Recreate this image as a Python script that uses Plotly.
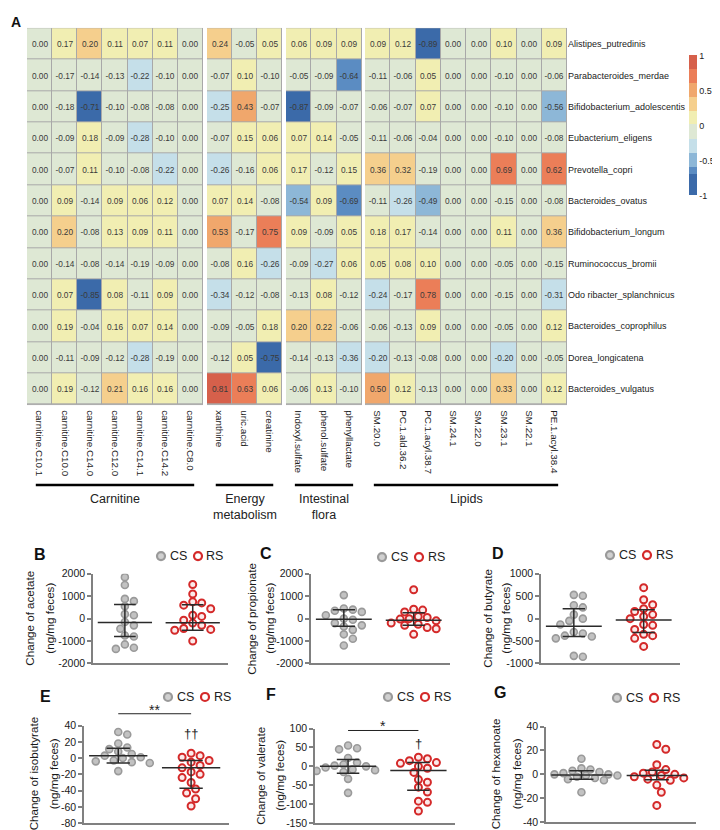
import plotly.graph_objects as go

W, H = 720, 830

# ---------------- Heatmap data ----------------
bacteria = ["Alistipes_putredinis", "Parabacteroides_merdae", "Bifidobacterium_adolescentis",
            "Eubacterium_eligens", "Prevotella_copri", "Bacteroides_ovatus", "Bifidobacterium_longum",
            "Ruminococcus_bromii", "Odo ribacter_splanchnicus", "Bacteroides_coprophilus",
            "Dorea_longicatena", "Bacteroides_vulgatus"]

carnitine_cols = ["carnitine.C10.1", "carnitine.C10.0", "carnitine.C14.0", "carnitine.C12.0",
                  "carnitine.C14.1", "carnitine.C14.2", "carnitine.C8.0"]
energy_cols = ["xanthine", "uric.acid", "creatinine"]
flora_cols = ["Indoxyl.sulfate", "phenol.sulfate", "phenyllactate"]
lipid_cols = ["SM.20.0", "PC.1.ald.36.2", "PC.1.acyl.38.7", "SM.24.1", "SM.22.0", "SM.23.1",
              "SM.22.1", "PE.1.acyl.38.4"]

carnitine_r = [
    [0.00, 0.17, 0.20, 0.11, 0.07, 0.11, 0.00],
    [0.00, -0.17, -0.14, -0.13, -0.22, -0.10, 0.00],
    [0.00, -0.18, -0.71, -0.10, -0.08, -0.08, 0.00],
    [0.00, -0.09, 0.18, -0.09, -0.28, -0.10, 0.00],
    [0.00, -0.07, 0.11, -0.10, -0.08, -0.22, 0.00],
    [0.00, 0.09, -0.14, 0.09, 0.06, 0.12, 0.00],
    [0.00, 0.20, -0.08, 0.13, 0.09, 0.11, 0.00],
    [0.00, -0.14, -0.08, -0.14, -0.19, -0.09, 0.00],
    [0.00, 0.07, -0.85, 0.08, -0.11, 0.09, 0.00],
    [0.00, 0.19, -0.04, 0.16, 0.07, 0.14, 0.00],
    [0.00, -0.11, -0.09, -0.12, -0.28, -0.19, 0.00],
    [0.00, 0.19, -0.12, 0.21, 0.16, 0.16, 0.00],
]
energy_r = [
    [0.24, -0.05, 0.05],
    [-0.07, 0.10, -0.10],
    [-0.25, 0.43, -0.07],
    [-0.07, 0.15, 0.06],
    [-0.26, -0.16, 0.06],
    [0.07, 0.14, -0.08],
    [0.53, -0.17, 0.75],
    [-0.08, 0.16, -0.26],
    [-0.34, -0.12, -0.08],
    [-0.09, -0.05, 0.18],
    [-0.12, 0.05, -0.75],
    [0.81, 0.63, 0.06],
]
flora_r = [
    [0.06, 0.09, 0.09],
    [-0.05, -0.09, -0.64],
    [-0.87, -0.09, -0.07],
    [0.07, 0.14, -0.05],
    [0.17, -0.12, 0.15],
    [-0.54, 0.09, -0.69],
    [0.09, -0.09, 0.05],
    [-0.09, -0.27, 0.06],
    [-0.13, 0.08, -0.12],
    [0.20, 0.22, -0.06],
    [-0.14, -0.13, -0.36],
    [-0.06, 0.13, -0.10],
]
lipid_r = [
    [0.09, 0.12, -0.89, 0.00, 0.00, 0.10, 0.00, 0.09],
    [-0.11, -0.06, 0.05, 0.00, 0.00, -0.10, 0.00, -0.06],
    [-0.06, -0.07, 0.07, 0.00, 0.00, -0.10, 0.00, -0.56],
    [-0.11, -0.06, -0.04, 0.00, 0.00, -0.10, 0.00, -0.08],
    [0.36, 0.32, -0.19, 0.00, 0.00, 0.69, 0.00, 0.62],
    [-0.11, -0.26, -0.49, 0.00, 0.00, -0.15, 0.00, -0.08],
    [0.18, 0.17, -0.14, 0.00, 0.00, 0.11, 0.00, 0.36],
    [0.05, 0.08, 0.10, 0.00, 0.00, -0.05, 0.00, -0.15],
    [-0.24, -0.17, 0.78, 0.00, 0.00, -0.15, 0.00, -0.31],
    [-0.06, -0.13, 0.09, 0.00, 0.00, -0.05, 0.00, 0.12],
    [-0.20, -0.13, -0.08, 0.00, 0.00, -0.20, 0.00, -0.05],
    [0.50, 0.12, -0.13, 0.00, 0.00, 0.33, 0.00, 0.12],
]
group_names = ["Carnitine", "Energy<br>metabolism", "Intestinal<br>flora", "Lipids"]

colorbar_ticks = [-1, -0.5, 0, 0.5, 1]
colorbar_labels = ["-1", "-0.5", "0", "0.5", "1"]

# ---------------- SCFA data ----------------
acetate_cs = [1850, 1500, 880, 780, 550, 200, 150, -150, -300, -450, -800, -750, -1150, -1350, -1300]
acetate_rs = [1520, 1100, 750, 700, 600, 440, 150, 100, -70, -200, -300, -440, -480, -520, -1000]
propionate_cs = [1050, 450, 400, 350, 300, 150, 0, -50, -200, -300, -350, -500, -700, -900, -1200]
propionate_rs = [1290, 420, 380, 300, 100, 50, 0, -20, -100, -200, -250, -300, -400, -450, -700]
butyrate_cs = [530, 510, 300, 250, 90, 0, -50, -130, -300, -330, -380, -400, -440, -830, -850]
butyrate_rs = [690, 420, 310, 220, 160, 90, 50, 0, -130, -150, -240, -350, -380, -440, -620]
isobutyrate_cs = [32, 29, 18, 13, 11, 8, 5, 3, 1, 0, -3, -4, -5, -6, -16]
isobutyrate_rs = [6, 3, 1, -3, -5, -9, -12, -17, -20, -24, -30, -38, -43, -50, -59]
valerate_cs = [55, 48, 45, 22, 10, 5, 2, 0, -3, -8, -10, -12, -15, -33, -70]
valerate_rs = [24, 20, 15, 10, 8, 0, -5, -16, -35, -42, -55, -68, -92, -95, -118]
hexanoate_cs = [13, 5, 4, 3, 2, 1, 0, 0, -1, -1, -2, -3, -4, -5, -15]
hexanoate_rs = [25, 21, 8, 4, 2, 1, 0, -1, -2, -3, -4, -5, -9, -15, -26]

# summary lines: (centre, lower, upper)
acetate_stats = [(-170, -800, 630), (-180, -520, 620)]
propionate_stats = [(-30, -340, 400), (-75, -295, 265)]
butyrate_stats = [(-170, -400, 220), (-30, -310, 200)]
isobutyrate_stats = [(3, -6, 12), (-12, -37, -3)]
valerate_stats = [(0, -18, 18), (-11, -63, 10)]
hexanoate_stats = [(-0.5, -4, 3), (-1, -4.5, 3.5)]

groups = ["CS", "RS"]

# ---------------- figure ----------------
fig = go.Figure()

def px(x):
    return x / W

def py(y):
    return 1 - y / H

# discrete colour scale
edges = [-1, -0.7, -0.6, -0.4, -0.195, 0.01, 0.195, 0.4, 0.6, 0.8, 1]
bins = ["#3b6aa9", "#5b8cc2", "#8db7d7", "#c5dfe9", "#dee8d4", "#f1eeb2",
        "#f5cf8d", "#f0a76c", "#eb7e58", "#d6604b"]
cscale = []
for i, c in enumerate(bins):
    cscale.append([(edges[i] + 1) / 2, c])
    cscale.append([(edges[i + 1] + 1) / 2, c])

hm_groups = [(carnitine_cols, carnitine_r, 19, 195),
             (energy_cols, energy_r, 199, 274),
             (flora_cols, flora_r, 278, 354),
             (lipid_cols, lipid_r, 357, 559)]
hm_top, hm_bot = 14, 397

for gi, (cols, rows, x0, x1) in enumerate(hm_groups):
    ax = "" if gi == 0 else str(gi + 1)
    text = [[f"{v:.2f}" for v in r] for r in rows]
    fig.add_trace(go.Heatmap(
        z=rows, x=cols, y=bacteria, text=text, texttemplate="%{text}",
        textfont=dict(size=8.3, color="#3a3a3a", family="Liberation Sans, Arial"),
        colorscale=cscale, zmin=-1, zmax=1, xgap=1, ygap=1,
        showscale=(gi == 3),
        colorbar=dict(x=px(681), xanchor="left", y=py(113), yanchor="middle",
                      len=140, lenmode="pixels", thickness=8, ypad=0, xpad=0,
                      tickvals=colorbar_ticks, ticktext=colorbar_labels,
                      ticks="", outlinewidth=0, tickfont=dict(size=9, color="#222")),
        xaxis="x" + ax, yaxis="y", hoverinfo="skip"))
    fig.layout["xaxis" + ax] = dict(
        domain=[px(x0), px(x1)], anchor="y", type="category",
        range=[-0.5, len(cols) - 0.5], tickangle=90, showgrid=False, zeroline=False,
        ticks="outside", ticklen=2, tickcolor="rgba(0,0,0,0)",
        tickfont=dict(size=9.8, color="#222"))
    fig.add_shape(type="rect", xref="x" + ax, yref="y", x0=-0.5, x1=len(cols) - 0.5,
                  y0=-0.5, y1=len(bacteria) - 0.5, fillcolor="#a8a8a8",
                  line=dict(color="#a8a8a8", width=1), layer="below")
    # bracket & group label
    cw = (x1 - x0) / len(cols)
    fig.add_shape(type="line", xref="paper", yref="paper",
                  x0=px(x0 + 0.35 * cw), x1=px(x1 - 0.35 * cw), y0=py(478), y1=py(478),
                  line=dict(color="black", width=2.5))
    fig.add_annotation(x=px((x0 + x1) / 2), y=py(483), xref="paper", yref="paper",
                       text=group_names[gi], showarrow=False, xanchor="center", yanchor="top",
                       font=dict(size=12.5, color="#222"))

fig.layout["yaxis"] = dict(domain=[py(hm_bot), py(hm_top)], anchor="x4", side="right",
                           type="category", categoryorder="array", categoryarray=bacteria,
                           autorange="reversed", showgrid=False, zeroline=False,
                           ticks="", tickfont=dict(size=9, color="#222"))

# ---------------- scatter panels ----------------
panels = [
    dict(L="B", cs=acetate_cs, rs=acetate_rs, st=acetate_stats, yr=(-2000, 2000), dt=1000,
         xp=(85, 220), yp=(568, 659), title="Change of acetate", tx=(22, 42),
         lab=(32, 548), leg=(153, 550)),
    dict(L="C", cs=propionate_cs, rs=propionate_rs, st=propionate_stats, yr=(-2000, 2000), dt=1000,
         xp=(303, 442), yp=(568, 659), title="Change of propionate", tx=(244, 262),
         lab=(258, 547), leg=(374, 551)),
    dict(L="D", cs=butyrate_cs, rs=butyrate_rs, st=butyrate_stats, yr=(-1000, 1000), dt=500,
         xp=(533, 672), yp=(568, 659), title="Change of butyrate", tx=(480, 498),
         lab=(490, 547), leg=(602, 549)),
    dict(L="E", cs=isobutyrate_cs, rs=isobutyrate_rs, st=isobutyrate_stats, yr=(-80, 40), dt=20,
         xp=(76, 221), yp=(722, 821), title="Change of isobutyrate", tx=(25, 45),
         lab=(37, 693), leg=(160, 693)),
    dict(L="F", cs=valerate_cs, rs=valerate_rs, st=valerate_stats, yr=(-150, 100), dt=50,
         xp=(307, 447), yp=(725, 821), title="Change of valerate", tx=(253, 272),
         lab=(263, 690), leg=(380, 693)),
    dict(L="G", cs=hexanoate_cs, rs=hexanoate_rs, st=hexanoate_stats, yr=(-40, 40), dt=20,
         xp=(538, 688), yp=(723, 820), title="Change of hexanoate", tx=(487, 508),
         lab=(492, 688), leg=(609, 694)),
]

XR = (-0.47, 1.52)
DIAM = 7.5

def swarm(vals, ppu_y, ppu_x):
    placed = []
    xs = [0.0] * len(vals)
    order = sorted(range(len(vals)), key=lambda i: -vals[i])
    for i in order:
        yv = vals[i] * ppu_y
        k = 0
        while True:
            off = ((k + 1) // 2) * (DIAM * 0.6) * (1 if k % 2 else -1)
            if all((off - a) ** 2 + (yv - b) ** 2 >= DIAM ** 2 for a, b in placed):
                break
            k += 1
        placed.append((off, yv))
        xs[i] = off / ppu_x
    return xs

cs_marker = dict(size=7, color="#c2c2c2", line=dict(color="#9a9a9a", width=1.6))
rs_marker = dict(size=7, color="#fbeaea", line=dict(color="#d42a2a", width=2))

for pi, p in enumerate(panels):
    n = pi + 5
    xa, ya = f"x{n}", f"y{pi + 2}"
    wpx = p["xp"][1] - p["xp"][0]
    hpx = p["yp"][1] - p["yp"][0]
    ppu_x = wpx / (XR[1] - XR[0])
    ppu_y = hpx / (p["yr"][1] - p["yr"][0])
    for gi, (vals, mk) in enumerate([(p["cs"], cs_marker), (p["rs"], rs_marker)]):
        offs = swarm(vals, ppu_y, ppu_x)
        fig.add_trace(go.Scatter(x=[gi + o for o in offs], y=vals, mode="markers", marker=mk,
                                 xaxis=xa, yaxis=ya, showlegend=False, hoverinfo="skip"))
        m, lo, hi = p["st"][gi]
        lx, ly = [], []
        for seg in [((gi - 0.4, m), (gi + 0.4, m)), ((gi - 0.16, lo), (gi + 0.16, lo)),
                    ((gi - 0.16, hi), (gi + 0.16, hi)), ((gi, lo), (gi, hi))]:
            lx += [seg[0][0], seg[1][0], None]
            ly += [seg[0][1], seg[1][1], None]
        fig.add_trace(go.Scatter(x=lx, y=ly, mode="lines", line=dict(color="#2a2a2a", width=1.5),
                                 xaxis=xa, yaxis=ya, showlegend=False, hoverinfo="skip"))
    tv = list(range(p["yr"][0], p["yr"][1] + 1, p["dt"]))
    fig.layout[f"xaxis{n}"] = dict(domain=[px(p["xp"][0]), px(p["xp"][1])], anchor=ya,
                                   range=list(XR), showline=True, linecolor="#808080", linewidth=1.5,
                                   showticklabels=False, ticks="", showgrid=False, zeroline=False)
    fig.layout[f"yaxis{pi + 2}"] = dict(domain=[py(p["yp"][1]), py(p["yp"][0])], anchor=xa,
                                        range=list(p["yr"]), showline=True, linecolor="#808080",
                                        linewidth=1.5, ticks="outside", ticklen=4, tickwidth=1.5,
                                        tickcolor="#808080", tickvals=tv, ticktext=[str(v) for v in tv],
                                        tickfont=dict(size=10.5, color="#1a1a1a"),
                                        showgrid=False, zeroline=False)
    # axis title lines
    yc = (p["yp"][0] + p["yp"][1]) / 2
    for txt, tx in zip([p["title"], "(ng/mg feces)"], p["tx"]):
        fig.add_annotation(x=px(tx), y=py(yc), xref="paper", yref="paper", text=txt,
                           textangle=-90, showarrow=False, xanchor="center", yanchor="middle",
                           font=dict(size=11.6, color="#1a1a1a"))
    # panel letter
    fig.add_annotation(x=px(p["lab"][0]), y=py(p["lab"][1]), xref="paper", yref="paper",
                       text=f"<b>{p['L']}</b>", showarrow=False, xanchor="center", yanchor="middle",
                       font=dict(size=16, color="#111"))
    # legend
    lx0, ly0 = p["leg"]
    for k, (g, fc, lc) in enumerate([("CS", "#d0d0d0", "#9a9a9a"), ("RS", "white", "#d42a2a")]):
        cx = lx0 + 37 * k
        fig.add_shape(type="circle", xref="paper", yref="paper", xsizemode="pixel", ysizemode="pixel",
                      xanchor=px(cx), yanchor=py(ly0), x0=-4, x1=4, y0=-4, y1=4,
                      fillcolor=fc, line=dict(color=lc, width=2.2))
        fig.add_annotation(x=px(cx + 6.5), y=py(ly0), xref="paper", yref="paper", text=g,
                           showarrow=False, xanchor="left", yanchor="middle",
                           font=dict(size=12.5, color="#222"))

# significance marks
fig.add_shape(type="line", xref="x8", yref="paper", x0=0, x1=1, y0=py(710), y1=py(710),
              line=dict(color="#222", width=1))
fig.add_annotation(x=0.5, y=py(716), xref="x8", yref="paper", text="**", showarrow=False,
                   xanchor="center", yanchor="bottom", font=dict(size=14, color="#222"))
fig.add_annotation(x=1, y=30, xref="x8", yref="y5", text="\u2020\u2020", showarrow=False,
                   xanchor="center", yanchor="middle", font=dict(size=13, color="#222"))
fig.add_shape(type="line", xref="x9", yref="paper", x0=0, x1=1, y0=py(727), y1=py(727),
              line=dict(color="#222", width=1))
fig.add_annotation(x=0.5, y=py(733), xref="x9", yref="paper", text="*", showarrow=False,
                   xanchor="center", yanchor="bottom", font=dict(size=14, color="#222"))
fig.add_annotation(x=1, y=61, xref="x9", yref="y6", text="\u2020", showarrow=False,
                   xanchor="center", yanchor="middle", font=dict(size=13, color="#222"))

# panel A letter
fig.add_annotation(x=px(8), y=py(8), xref="paper", yref="paper", text="<b>A</b>", showarrow=False,
                   xanchor="center", yanchor="middle", font=dict(size=14, color="#111"))

fig.update_layout(width=W, height=H, margin=dict(l=0, r=0, t=0, b=0),
                  paper_bgcolor="white", plot_bgcolor="white", showlegend=False,
                  font=dict(family="Liberation Sans, Arial, sans-serif", color="#222"))

fig.write_html("out.html")
